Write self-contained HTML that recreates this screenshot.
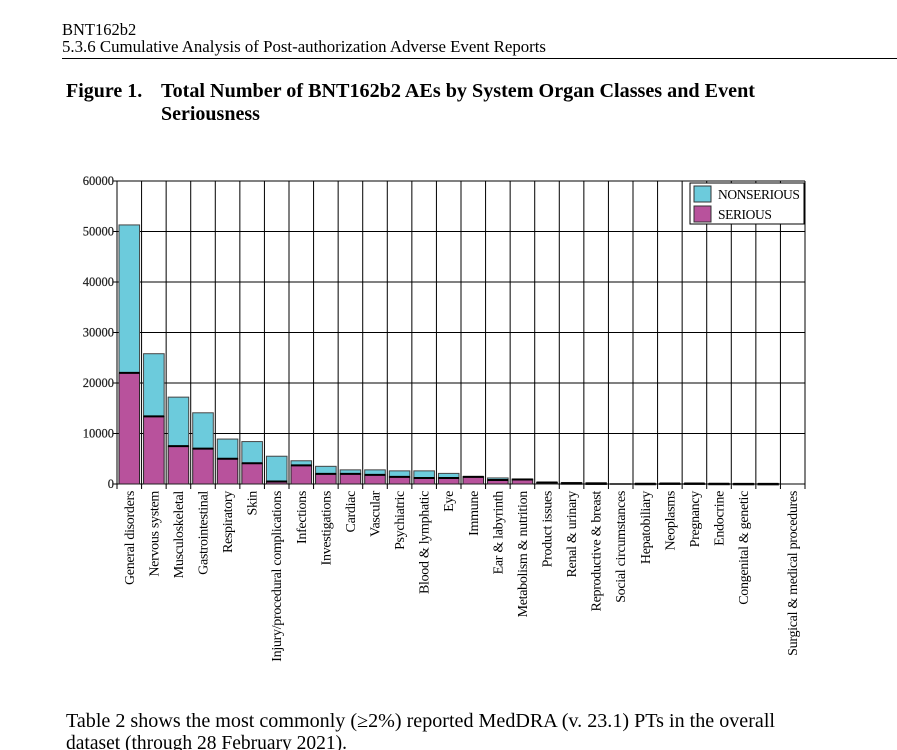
<!DOCTYPE html>
<html><head><meta charset="utf-8"><style>
body{margin:0;background:#fff;width:897px;height:750px;overflow:hidden;font-family:"Liberation Serif",serif;}
</style></head><body>
<svg width="897" height="750" style="position:absolute;left:0;top:0">
<text x="62" y="35" font-size="16.5">BNT162b2</text>
<text x="62" y="52" font-size="16.8" textLength="484" lengthAdjust="spacingAndGlyphs">5.3.6 Cumulative Analysis of Post-authorization Adverse Event Reports</text>
<line x1="62" y1="58.5" x2="897" y2="58.5" stroke="#000" stroke-width="1"/>
<text x="66" y="97" font-size="20" font-weight="bold">Figure 1.</text>
<text x="161" y="97" font-size="20" font-weight="bold" textLength="594" lengthAdjust="spacingAndGlyphs">Total Number of BNT162b2 AEs by System Organ Classes and Event</text>
<text x="161" y="120" font-size="20" font-weight="bold">Seriousness</text>
<g id="chart"></g>
<text x="66" y="727" font-size="19.5" textLength="709" lengthAdjust="spacingAndGlyphs">Table 2 shows the most commonly (≥2%) reported MedDRA (v. 23.1) PTs in the overall</text>
<text x="66" y="749" font-size="19.5">dataset (through 28 February 2021).</text>
</svg>
<script>
const categories=["General disorders","Nervous system","Musculoskeletal","Gastrointestinal","Respiratory","Skin","Injury/procedural complications","Infections","Investigations","Cardiac","Vascular","Psychiatric","Blood & lymphatic","Eye","Immune","Ear & labyrinth","Metabolism & nutrition","Product issues","Renal & urinary","Reproductive & breast","Social circumstances","Hepatobiliary","Neoplasms","Pregnancy","Endocrine","Congenital & genetic","","Surgical & medical procedures"];
const serious=[22000,13400,7500,7000,5000,4100,500,3700,2000,2000,1800,1400,1200,1200,1400,800,900,300,150,100,0,50,100,100,50,30,20,0];
const nonserious=[29300,12400,9700,7100,3900,4300,5000,900,1500,800,1000,1200,1400,900,100,400,100,50,150,150,100,50,0,0,50,70,80,0];
const yTicks=[0,10000,20000,30000,40000,50000,60000];
const NS="http://www.w3.org/2000/svg";
const g=document.getElementById('chart');
const X0=117,X1=805,Y0=484,Y1=181,YMAX=60000;
const slot=(X1-X0)/categories.length;
const y=v=>Y0-(v/YMAX)*(Y0-Y1);
const xs=i=>X0+i*slot;
function mk(t,a){const e=document.createElementNS(NS,t);for(const k in a)e.setAttribute(k,a[k]);g.appendChild(e);return e;}
yTicks.forEach(v=>{
 const l=mk('line',{x1:X0-4,x2:X1,y1:y(v),y2:y(v),stroke:'#000','stroke-width':1});
 
 
 const t=mk('text',{x:X0-3,y:y(v)+4,'text-anchor':'end','font-size':12.5,fill:'#222',stroke:'#222','stroke-width':0.2});
 t.textContent=v;
 
 
});
for(let i=0;i<=categories.length;i++){
 const l=mk('line',{x1:xs(i),x2:xs(i),y1:Y1,y2:Y0+5,stroke:'#000','stroke-width':1});
 
 
}
categories.forEach((c,i)=>{
 const bx=xs(i)+2,bw=slot-4;
 const tot=serious[i]+nonserious[i];
 if(nonserious[i]>0){
  const r=mk('rect',{x:bx,y:y(tot),width:bw,height:Math.max(1,y(serious[i])-y(tot)),fill:'#6ccbdc',stroke:'#444','stroke-width':1});
  
  
 }
 if(serious[i]>0){
  const r=mk('rect',{x:bx,y:y(serious[i]),width:bw,height:Math.max(1,Y0-y(serious[i])),fill:'#b8529c',stroke:'#222','stroke-width':1});
  
  
  const l=mk('line',{x1:bx,x2:bx+bw,y1:y(serious[i]),y2:y(serious[i]),stroke:'#000','stroke-width':2});
  
  
 }
 const cx=xs(i)+slot/2+4.5;
 const t=mk('text',{x:cx,y:Y0+7,'text-anchor':'end','font-size':14,transform:`rotate(-90 ${cx} ${Y0+7})`,'letter-spacing':'-0.3'});
 t.textContent=c;
 
 
});
const lg=mk('rect',{x:690,y:183,width:114,height:41,fill:'#fff',stroke:'#000','stroke-width':1});


[['NONSERIOUS','#6ccbdc',186],['SERIOUS','#b8529c',206]].forEach(([n,c,yy])=>{
 const r=mk('rect',{x:694,y:yy,width:17,height:16,fill:c,stroke:'#333','stroke-width':1});
 
 
 const t=mk('text',{x:718,y:yy+13,'font-size':13.5,'letter-spacing':'-0.4'});
 t.textContent=n;
 
 
});
</script>
</body></html>
